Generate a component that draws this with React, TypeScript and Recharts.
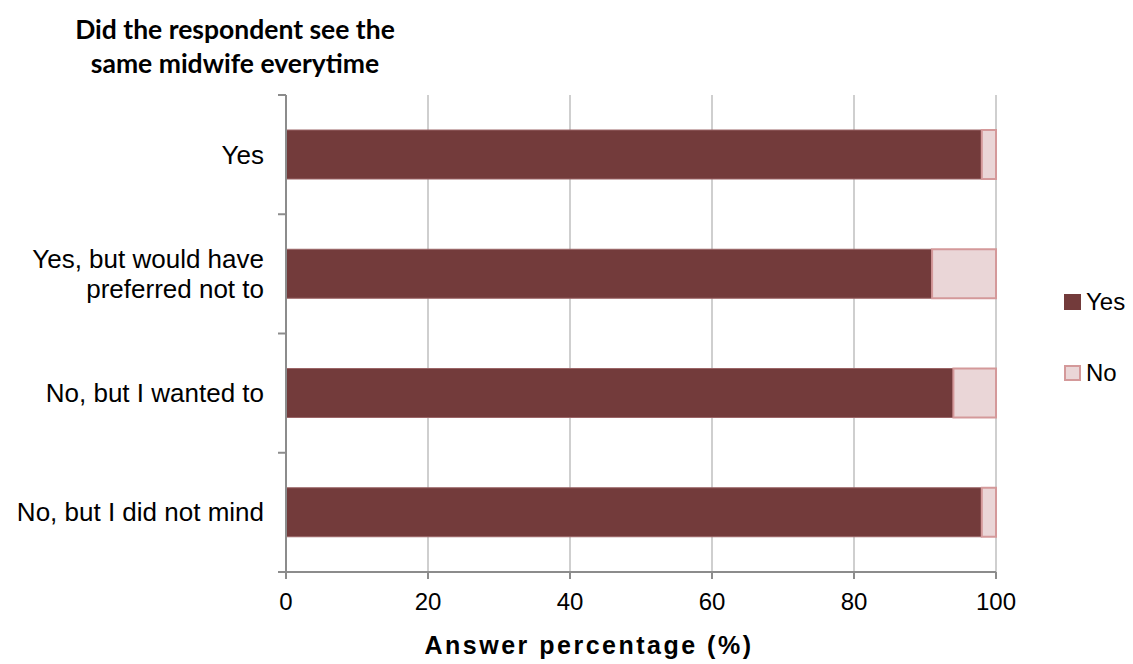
import React from 'react';
import { BarChart, Bar, XAxis, YAxis, CartesianGrid, Legend } from 'recharts';

const categories = ['Yes', 'Yes, but would have preferred not to', 'No, but I wanted to', 'No, but I did not mind'];
const yesValues = [98, 91, 94, 98];
const noValues = [2, 9, 6, 2];
const xTicks = [0, 20, 40, 60, 80, 100];

const data = categories.map((c, i) => ({ category: c, Yes: yesValues[i], No: noValues[i] }));

const W = 1133;
const H = 664;
const M = { top: 95, right: 137, bottom: 32, left: 0 };
const Y_AXIS_W = 286;
const X_AXIS_H = 60;
const plotH = H - M.top - M.bottom - X_AXIS_H;
const band = plotH / categories.length;

const CategoryTick = (props: any) => {
  const { x, y, payload, index } = props;
  const label: string = payload.value;
  const lines = label === 'Yes, but would have preferred not to' ? ['Yes, but would have', 'preferred not to'] : [label];
  const lh = 30;
  const startY = y - ((lines.length - 1) * lh) / 2;
  const axisX = x + 8;
  return (
    <g>
      <line x1={axisX - 8} x2={axisX} y1={y - band / 2} y2={y - band / 2} stroke="#8c8c8c" strokeWidth={2} />
      {index === categories.length - 1 && (
        <line x1={axisX - 8} x2={axisX} y1={y + band / 2} y2={y + band / 2} stroke="#8c8c8c" strokeWidth={2} />
      )}
      <text x={x - 14} y={startY} textAnchor="end" dominantBaseline="central" fontFamily="'Liberation Sans', Arial, sans-serif" fontSize={26} fill="#000">
        {lines.map((l, i) => (
          <tspan key={i} x={x - 14} dy={i === 0 ? 0 : lh}>{l}</tspan>
        ))}
      </text>
    </g>
  );
};

const LegendContent = () => {
  const items = [
    { name: 'Yes', fill: '#733b3b', stroke: '#733b3b' },
    { name: 'No', fill: '#ead6d7', stroke: '#d4999a' },
  ];
  return (
    <div>
      {items.map((it, i) => (
        <div key={it.name} style={{ display: 'flex', alignItems: 'center', height: 30, marginBottom: i === 0 ? 41 : 0 }}>
          <svg width={17} height={16} style={{ marginRight: 5 }}>
            <rect x={1} y={1} width={15} height={14} fill={it.fill} stroke={it.stroke} strokeWidth={2} />
          </svg>
          <span style={{ fontFamily: "'Liberation Sans', Arial, sans-serif", fontSize: 24, color: '#000' }}>{it.name}</span>
        </div>
      ))}
    </div>
  );
};

export default function App() {
  return (
    <div style={{ position: 'absolute', left: 0, top: 0, width: W, height: H, background: '#fff' }}>
      <div
        style={{
          position: 'absolute',
          left: 35,
          top: 12,
          width: 400,
          textAlign: 'center',
          fontFamily: "Lato, 'Open Sans', sans-serif",
          fontWeight: 700,
          fontSize: 26.5,
          lineHeight: '34px',
          color: '#000',
          zIndex: 2,
        }}
      >
        Did the respondent see the
        <br />
        same midwife everytime
      </div>
      <BarChart width={W} height={H} data={data} layout="vertical" margin={M} barSize={49}>
        <CartesianGrid horizontal={false} vertical={true} stroke="#bfbfbf" strokeWidth={1.5} />
        <XAxis
          type="number"
          domain={[0, 100]}
          ticks={xTicks}
          height={X_AXIS_H}
          axisLine={{ stroke: '#8c8c8c', strokeWidth: 2 }}
          tickLine={{ stroke: '#8c8c8c', strokeWidth: 2 }}
          tickSize={7}
          tick={{ fontFamily: "'Liberation Sans', Arial, sans-serif", fontSize: 24, fill: '#000', dy: 12 }}
          label={{
            value: 'Answer percentage (%)',
            position: 'insideBottom',
            offset: -22,
            dx: -52,
            style: { fontFamily: "'Liberation Sans', Arial, sans-serif", fontSize: 25, fontWeight: 700, fill: '#000', letterSpacing: 2.5 },
          }}
        />
        <YAxis
          type="category"
          dataKey="category"
          width={Y_AXIS_W}
          axisLine={{ stroke: '#8c8c8c', strokeWidth: 2 }}
          tickLine={false}
          tick={<CategoryTick />}
          interval={0}
        />
        <Bar dataKey="Yes" stackId="a" fill="#733b3b" stroke="#9a6466" strokeWidth={1} isAnimationActive={false} />
        <Bar dataKey="No" stackId="a" fill="#ead6d7" stroke="#d4999a" strokeWidth={2} isAnimationActive={false} />
        <Legend
          layout="horizontal"
          verticalAlign="middle"
          align="center"
          content={<LegendContent />}
          wrapperStyle={{ position: 'absolute', left: 1064, top: 287, width: 80 }}
        />
      </BarChart>
    </div>
  );
}
